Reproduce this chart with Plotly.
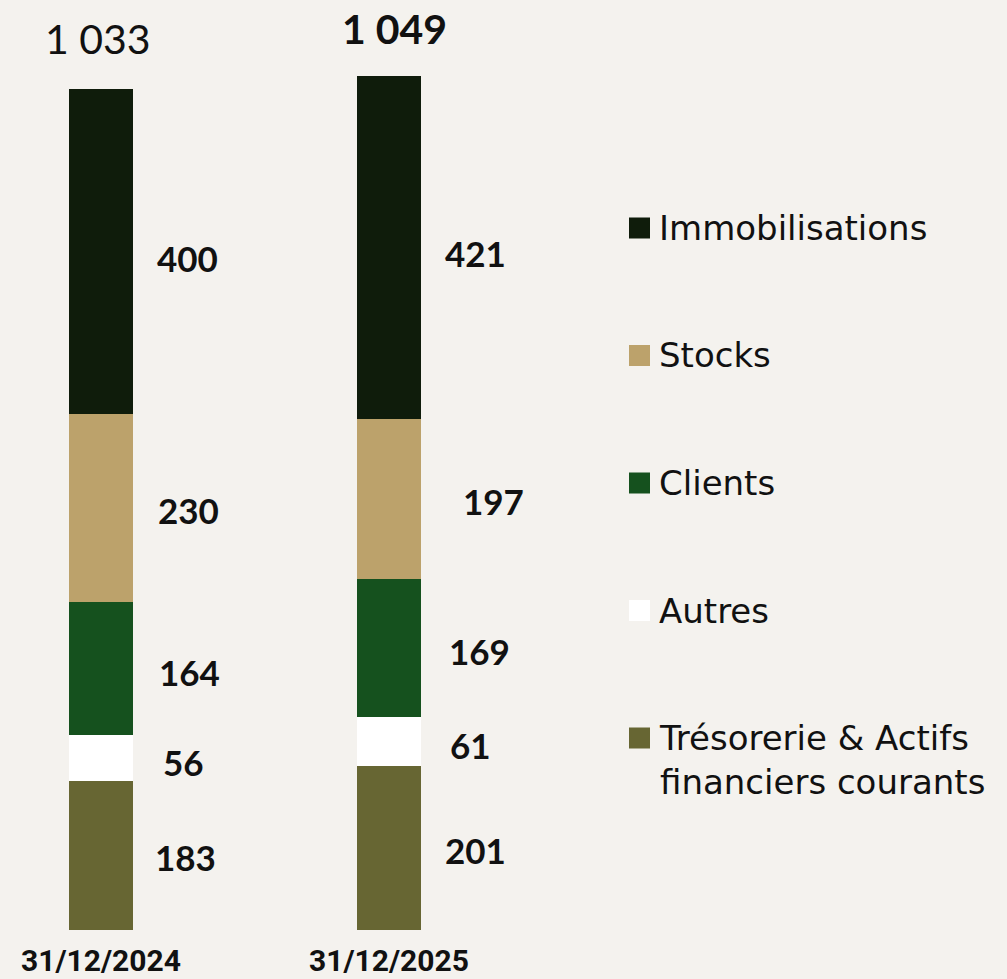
import plotly.graph_objects as go

# ---- data ----
categories = ["31/12/2024", "31/12/2025"]
series_names = ["Trésorerie & Actifs financiers courants", "Autres", "Clients", "Stocks", "Immobilisations"]
tresorerie = [183, 201]
autres = [56, 61]
clients = [164, 169]
stocks = [230, 197]
immobilisations = [400, 421]
totals = ["1 033", "1 049"]
legend_labels = ["Immobilisations", "Stocks", "Clients", "Autres", "Trésorerie & Actifs<br>financiers courants"]

# ---- style ----
colors = {
    "Immobilisations": "#0f1c0b",
    "Stocks": "#bca26b",
    "Clients": "#15511e",
    "Autres": "#ffffff",
    "Trésorerie & Actifs financiers courants": "#676633",
}
legend_colors = ["#0f1c0b", "#bca26b", "#15511e", "#ffffff", "#676633"]
BG = "#f4f2ee"
W, H = 1007, 979
PLOT_H = 930
px_per_unit_x = 288.0
x0 = -101 / px_per_unit_x
x1 = x0 + W / px_per_unit_x
y_per_px = 0.8144
ymax = PLOT_H / y_per_px

series_values = [tresorerie, autres, clients, stocks, immobilisations]
xs = list(range(len(categories)))

fig = go.Figure()
for name, vals in zip(series_names, series_values):
    fig.add_trace(go.Bar(
        x=xs, y=vals, name=name, width=0.222,
        marker=dict(color=colors[name], line=dict(width=0)),
        showlegend=False, hoverinfo="skip",
    ))

# data labels (to the right of each segment)
label_dx = [[-2, 0], [-4, -5], [2, 4], [1, 18], [0, 0]]
label_dy = [-2, -4, -3, -2, -6]
annotations = []
for si, vals in enumerate(series_values):
    for ci, v in enumerate(vals):
        base = sum(series_values[k][ci] for k in range(si))
        annotations.append(dict(
            x=xs[ci] + 0.3, y=base + v / 2, text=f"<b>{v}</b>",
            showarrow=False, xanchor="center", yanchor="middle",
            xshift=label_dx[si][ci], yshift=label_dy[si],
            font=dict(family="Lato", size=35, color="#111111"),
        ))

# totals
total_vals = [sum(s[ci] for s in series_values) for ci in range(len(categories))]
total_fmt = [totals[0], f"<b>{totals[1]}</b>"]
total_shift = [50, 47]
for ci in range(len(categories)):
    annotations.append(dict(
        x=xs[ci], y=total_vals[ci], text=total_fmt[ci], showarrow=False,
        xanchor="center", yanchor="middle", yshift=total_shift[ci], xshift=[-3, 5][ci],
        font=dict(family="Lato", size=41, color="#111111"),
    ))

# category labels
for ci, c in enumerate(categories):
    annotations.append(dict(
        x=xs[ci], y=0, text=f"<b>{c}</b>", showarrow=False,
        xanchor="center", yanchor="middle", yshift=-30,
        font=dict(family="Roboto", size=30, color="#111111"),
    ))

# legend
shapes = []
for i, (lab, col) in enumerate(zip(legend_labels, legend_colors)):
    cy = 228 + i * 127.5
    shapes.append(dict(
        type="rect", xref="paper", yref="paper",
        x0=629 / W, x1=650 / W,
        y0=(PLOT_H - (cy + 10.5)) / PLOT_H, y1=(PLOT_H - (cy - 10.5)) / PLOT_H,
        fillcolor=col, line=dict(width=0),
    ))
    nlines = lab.count("<br>") + 1
    ty = cy + (nlines - 1) * 21.5
    annotations.append(dict(
        xref="paper", yref="paper", x=657 / W, y=(PLOT_H - ty) / PLOT_H,
        text=lab, showarrow=False, xanchor="left", yanchor="middle", align="left",
        font=dict(family="DejaVu Sans", size=34, color="#111111"),
    ))

fig.update_layout(
    width=W, height=H, barmode="stack", bargap=0,
    paper_bgcolor=BG, plot_bgcolor=BG,
    margin=dict(l=0, r=0, t=0, b=H - PLOT_H, pad=0),
    xaxis=dict(range=[x0, x1], visible=False, fixedrange=True),
    yaxis=dict(range=[0, ymax], visible=False, fixedrange=True),
    annotations=annotations, shapes=shapes,
)

fig.write_html(
    "out.html",
    config={"displayModeBar": False},
    post_script="document.body.style.margin='0';document.body.style.padding='0';"
                "document.body.style.overflow='hidden';"
                "document.body.style.background='" + BG + "';",
)
